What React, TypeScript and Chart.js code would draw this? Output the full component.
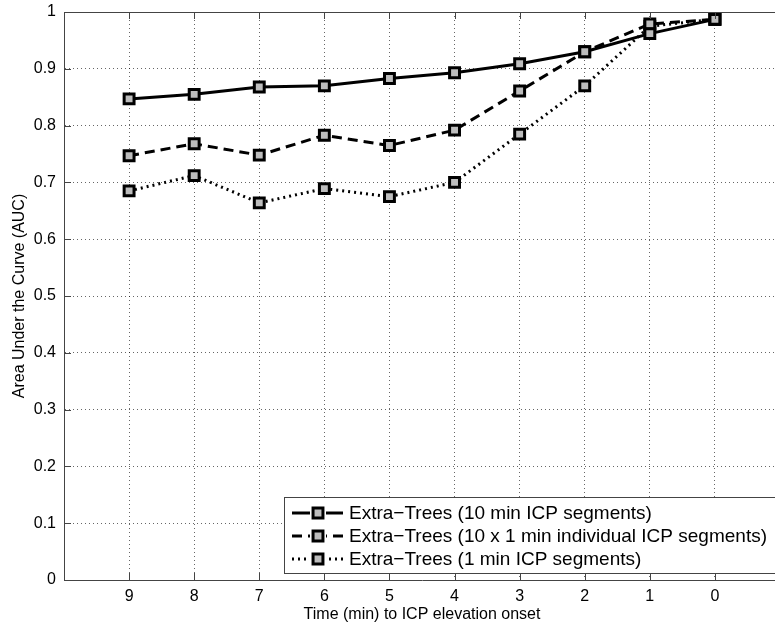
import React, { useEffect, useRef } from 'react';
import { Chart, registerables } from 'chart.js';

Chart.register(...registerables);

// ---- data ----
const timeToOnset = [9, 8, 7, 6, 5, 4, 3, 2, 1, 0];
const auc10min = [0.847, 0.855, 0.868, 0.870, 0.883, 0.893, 0.909, 0.930, 0.962, 0.987];
const auc10x1min = [0.747, 0.768, 0.748, 0.783, 0.765, 0.792, 0.861, 0.930, 0.979, 0.987];
const auc1min = [0.685, 0.712, 0.664, 0.689, 0.675, 0.700, 0.785, 0.870, 0.975, 0.987];
const seriesLabels = [
  'Extra\u2212Trees (10 min ICP segments)',
  'Extra\u2212Trees (10 x 1 min individual ICP segments)',
  'Extra\u2212Trees (1 min ICP segments)',
];
const xTickValues = [9, 8, 7, 6, 5, 4, 3, 2, 1, 0];
const yTickValues = [0, 0.1, 0.2, 0.3, 0.4, 0.5, 0.6, 0.7, 0.8, 0.9, 1];
const yTickLabels = ['0', '0.1', '0.2', '0.3', '0.4', '0.5', '0.6', '0.7', '0.8', '0.9', '1'];
const xAxisTitle = 'Time (min) to ICP elevation onset';
const yAxisTitle = 'Area Under the Curve (AUC)';

const FONT = '"Liberation Sans", Arial, Helvetica, sans-serif';
const AXIS_COLOR = '#444';
const MARKER_FILL = '#bdbdbd';

const framePlugin = {
  id: 'frame',
  afterDatasetsDraw(chart: any) {
    const { ctx, chartArea } = chart;
    const xs = chart.scales.x;
    const ys = chart.scales.y;
    ctx.save();
    ctx.strokeStyle = AXIS_COLOR;
    ctx.lineWidth = 1;
    ctx.setLineDash([]);
    ctx.beginPath();
    // top border
    ctx.moveTo(chartArea.left, Math.round(chartArea.top) + 0.5);
    ctx.lineTo(chartArea.right, Math.round(chartArea.top) + 0.5);
    // inward ticks on x (bottom & top) and y (left)
    const tl = 7;
    xTickValues.forEach((v) => {
      const px = Math.round(xs.getPixelForValue(v)) + 0.5;
      ctx.moveTo(px, chartArea.bottom);
      ctx.lineTo(px, chartArea.bottom - tl);
      ctx.moveTo(px, chartArea.top);
      ctx.lineTo(px, chartArea.top + tl);
    });
    yTickValues.forEach((v) => {
      const py = Math.round(ys.getPixelForValue(v)) + 0.5;
      ctx.moveTo(chartArea.left, py);
      ctx.lineTo(chartArea.left + tl, py);
    });
    ctx.stroke();
    ctx.restore();
  },
  afterDraw(chart: any) {
    const { ctx, chartArea } = chart;
    const boxL = 284.5;
    const boxT = 497.5;
    const boxB = 573.5;
    const boxR = chartArea.right;
    ctx.save();
    ctx.fillStyle = '#fff';
    ctx.fillRect(boxL, boxT, boxR - boxL, boxB - boxT);
    ctx.strokeStyle = AXIS_COLOR;
    ctx.lineWidth = 1;
    ctx.strokeRect(boxL, boxT, boxR - boxL, boxB - boxT);
    const rows = [513, 536, 559];
    chart.data.datasets.forEach((ds: any, i: number) => {
      const y = rows[i];
      ctx.save();
      ctx.strokeStyle = ds.borderColor;
      ctx.lineWidth = ds.borderWidth;
      ctx.setLineDash(ds.borderDash || []);
      ctx.beginPath();
      ctx.moveTo(292, y);
      ctx.lineTo(310, y);
      ctx.stroke();
      ctx.beginPath();
      ctx.moveTo(343, y);
      ctx.lineTo(326, y);
      ctx.stroke();
      ctx.setLineDash([]);
      // marker
      const half = ds.pointRadius * Math.SQRT1_2;
      ctx.fillStyle = ds.pointBackgroundColor;
      ctx.strokeStyle = ds.pointBorderColor;
      ctx.lineWidth = ds.pointBorderWidth;
      ctx.beginPath();
      ctx.rect(318 - half, y - half, half * 2, half * 2);
      ctx.fill();
      ctx.stroke();
      ctx.restore();
      ctx.fillStyle = '#000';
      ctx.font = `19px ${FONT}`;
      ctx.textBaseline = 'middle';
      ctx.textAlign = 'left';
      ctx.fillText(ds.label, 349, y + 1);
    });
    ctx.restore();
  },
};

function makeDataset(label: string, values: number[], dash: number[]) {
  return {
    label,
    data: timeToOnset.map((t, i) => ({ x: t, y: values[i] })),
    borderColor: '#000',
    borderWidth: 3,
    borderDash: dash,
    pointStyle: 'rect',
    pointRadius: 7,
    pointHoverRadius: 7,
    pointBackgroundColor: MARKER_FILL,
    pointBorderColor: '#000',
    pointBorderWidth: 3,
    tension: 0,
    fill: false,
  };
}

export default function App() {
  const canvasRef = useRef<HTMLCanvasElement | null>(null);

  useEffect(() => {
    if (!canvasRef.current) return;
    const chart = new Chart(canvasRef.current, {
      type: 'line',
      data: {
        datasets: [
          makeDataset(seriesLabels[0], auc10min, []),
          makeDataset(seriesLabels[1], auc10x1min, [10, 6]),
          makeDataset(seriesLabels[2], auc1min, [2, 4]),
        ] as any,
      },
      options: {
        animation: false,
        responsive: false,
        devicePixelRatio: 1,
        layout: { padding: { top: 12, right: 7, left: 0, bottom: 0 } },
        plugins: {
          legend: { display: false },
          tooltip: { enabled: false },
        },
        scales: {
          x: {
            type: 'linear',
            reverse: true,
            min: -1,
            max: 10,
            afterFit: (s: any) => {
              s.height = 47;
              s.paddingLeft = 0;
              s.paddingRight = 0;
            },
            afterBuildTicks: (s: any) => {
              s.ticks = xTickValues.map((v) => ({ value: v }));
            },
            ticks: {
              color: '#000',
              font: { family: FONT, size: 16 },
              padding: 7,
              autoSkip: false,
              maxRotation: 0,
              callback: (v: any) => String(v),
            },
            grid: {
              color: 'rgba(0,0,0,0.6)',
              lineWidth: 1,
              drawTicks: false,
            },
            border: { display: true, color: AXIS_COLOR, width: 1, dash: [1, 3] },
            title: {
              display: true,
              text: xAxisTitle,
              color: '#000',
              font: { family: FONT, size: 16, lineHeight: 1.2 },
              padding: { top: 0, bottom: 3 },
            },
          },
          y: {
            type: 'linear',
            min: 0,
            max: 1,
            afterFit: (s: any) => {
              s.width = 64;
              s.paddingTop = 0;
              s.paddingBottom = 0;
            },
            afterBuildTicks: (s: any) => {
              s.ticks = yTickValues.map((v) => ({ value: v }));
            },
            ticks: {
              color: '#000',
              font: { family: FONT, size: 16 },
              padding: 8,
              callback: (_v: any, i: number) => yTickLabels[i],
            },
            grid: {
              color: 'rgba(0,0,0,0.6)',
              lineWidth: 1,
              drawTicks: false,
            },
            border: { display: true, color: AXIS_COLOR, width: 1, dash: [1, 3] },
            title: {
              display: true,
              text: yAxisTitle,
              color: '#000',
              font: { family: FONT, size: 16, lineHeight: 1.2 },
              padding: { top: 10, bottom: 0 },
            },
          },
        },
      },
      plugins: [framePlugin],
    });
    return () => chart.destroy();
  }, []);

  return (
    <div
      style={{
        position: 'fixed',
        left: 0,
        top: 0,
        width: 775,
        height: 627,
        overflow: 'hidden',
        background: '#fff',
      }}
    >
      <canvas ref={canvasRef} width={790} height={627} style={{ display: 'block' }} />
    </div>
  );
}
